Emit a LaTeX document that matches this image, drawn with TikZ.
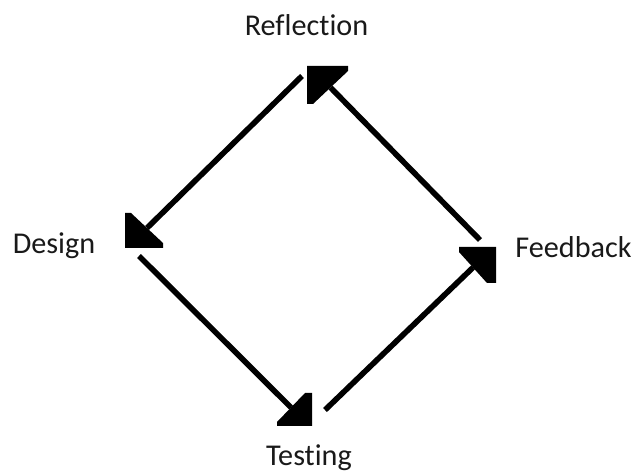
\documentclass[tikz,border=0pt]{standalone}
\usepackage{fontspec}
\setmainfont{Carlito}[RawFeature={-liga;-calt;-dlig;-clig}]
\newcommand{\nolig}{\kern0pt }
\begin{document}
\begin{tikzpicture}[x=1pt,y=-1pt,
  lbl/.style={anchor=base,font=\fontsize{30.2}{32}\selectfont,text=black!90,inner sep=0pt},
  shaft/.style={line width=5.6pt,line cap=butt},
  head/.style={fill=black,draw=none}]
\useasboundingbox (0,0) rectangle (633,473);
% labels
\node[lbl] (refl)   at (306.5,36)  {Reflect\nolig ion};
\node[lbl] (design) at (54,254)    {Design};
\node[lbl] (feed)   at (573.5,258) {Feedback};
\node[lbl] (test)   at (309,466)   {Test\nolig ing};
% shaft end points
\coordinate (a1s) at (480,240);   \coordinate (a1e) at (330.5,87.5);
\coordinate (a2s) at (302,76);    \coordinate (a2e) at (147,228);
\coordinate (a3s) at (139,256);   \coordinate (a3e) at (291,407.5);
\coordinate (a4s) at (325,410);   \coordinate (a4e) at (473,267.5);
% shafts
\draw[shaft] (a1s) -- (a1e);
\draw[shaft] (a2s) -- (a2e);
\draw[shaft] (a3s) -- (a3e);
\draw[shaft] (a4s) -- (a4e);
% clipped arrow heads
\fill[head] (307,66) -- (348,66) -- (348,71) -- (313,104) -- (307,104) -- cycle;
\fill[head] (125,213) -- (131,213) -- (163,243) -- (163,248) -- (125,248) -- cycle;
\fill[head] (312,393) -- (312,426) -- (277,426) -- (277,422) -- (305,393) -- cycle;
\fill[head] (459,247) -- (496,247) -- (496,283) -- (487,283) -- (459,252) -- cycle;
\end{tikzpicture}
\end{document}
